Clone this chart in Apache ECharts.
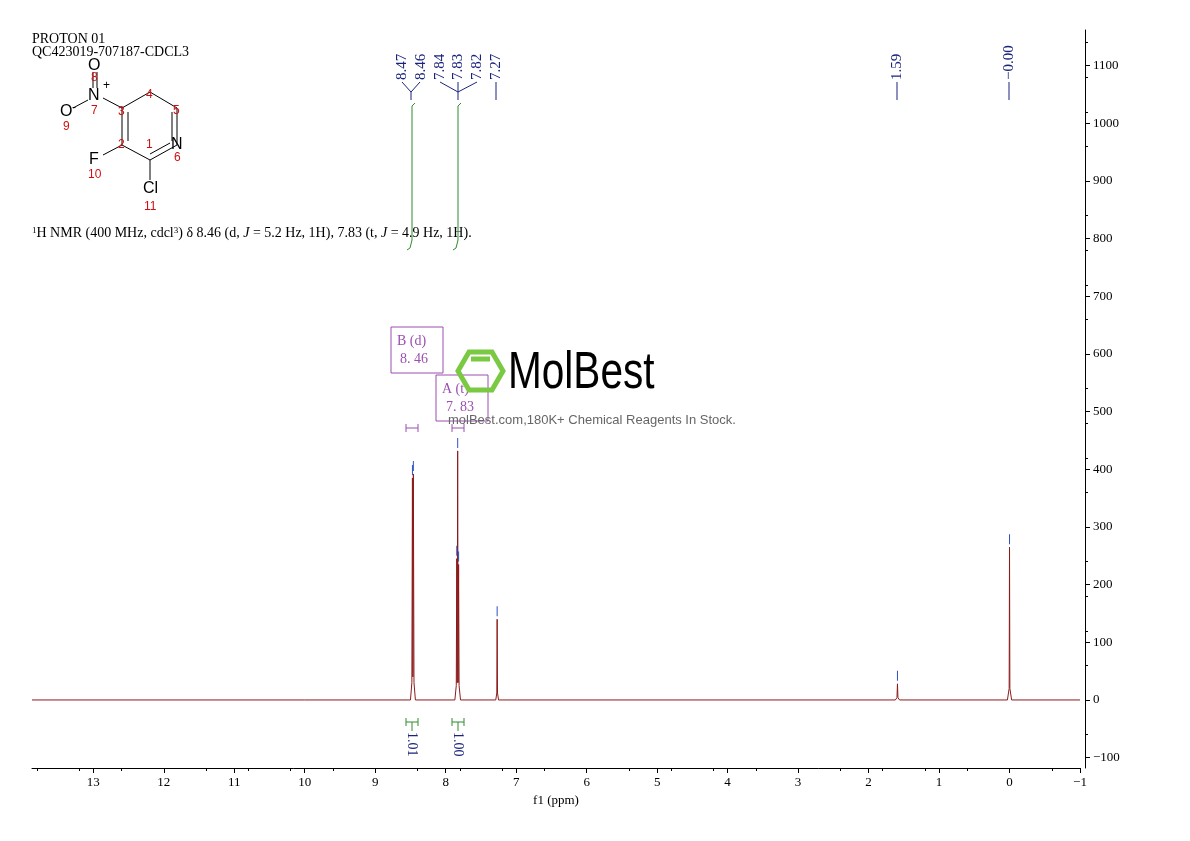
<!DOCTYPE html>
<html><head><meta charset="utf-8">
<script src="https://cdn.jsdelivr.net/npm/echarts@6/dist/echarts.min.js"></script>
<style>html,body{margin:0;padding:0;background:#fff}#c{width:1190px;height:841px}</style>
</head><body><div id="c"></div>
<script>
// peak tops (ppm, intensity)
const peakShifts = [8.472, 8.459, 7.843, 7.830, 7.817, 7.27, 1.59, 0.00];
const peakHeights = [385, 392, 245, 432, 235, 140, 28, 265];
// spectrum trace (ppm, intensity)
const specX = [13.87, 10, 8.50, 8.48, 8.472, 8.466, 8.459, 8.45, 8.43, 7.87, 7.85, 7.843, 7.837, 7.830, 7.824, 7.817, 7.81, 7.79, 7.29, 7.275, 7.27, 7.265, 7.25, 1.62, 1.597, 1.59, 1.583, 1.56, 0.03, 0.005, 0.00, -0.005, -0.03, -1.0];
const specY = [0, 0, 0, 30, 385, 40, 392, 30, 0, 0, 25, 245, 30, 432, 30, 235, 25, 0, 0, 12, 140, 12, 0, 0, 4, 28, 4, 0, 0, 20, 265, 20, 0, 0];
const xTicks = [13,12,11,10,9,8,7,6,5,4,3,2,1,0,-1];
const yTicks = [-100,0,100,200,300,400,500,600,700,800,900,1000,1100];
const topLabels = ['8.47','8.46','7.84','7.83','7.82','7.27','1.59','-0.00'];
const integrals = ['1.01','1.00'];

const spectrum = specX.map((x,i)=>[x,specY[i]]);

const chart = echarts.init(document.getElementById('c'));
const serif = 'Liberation Serif';
const blue = '#1a237e', green = '#2e8b2e', purple = '#9b4fb0', red = '#d01010';
function line(x1,y1,x2,y2,c,w){return {type:'line',shape:{x1,y1,x2,y2},style:{stroke:c||'#000',lineWidth:w||1}};}
function txt(x,y,t,opt){return Object.assign({type:'text',x,y,style:Object.assign({text:t,fill:'#000',font:'13px '+serif},opt||{})});}
function vtxt(x,y,t,c,size,down){return {type:'text',x,y,rotation:down?-Math.PI/2:Math.PI/2,style:{text:t,fill:c,font:(size||14)+'px '+serif,align:'left',verticalAlign:'middle'}};}

const g = [];
g.push(txt(32,32,'PROTON 01',{font:'14px '+serif}));
g.push(txt(32,45,'QC423019-707187-CDCL3',{font:'14px '+serif}));
const V={c3:[122,108],c4:[150,92],c5:[177,108],n6:[177,145],c1:[150,160],c2:[122,145]};
[['c3','c4'],['c4','c5'],['c5','n6'],['n6','c1'],['c1','c2'],['c2','c3']].forEach(([a,b])=>g.push(line(V[a][0],V[a][1],V[b][0],V[b][1])));
g.push(line(128,112,128,141)); g.push(line(172,112,172,141)); g.push(line(150,154,170,143));
g.push(line(122,108,103,98)); g.push(line(150,160,150,180)); g.push(line(122,145,103,155));
g.push(line(93,88,93,72)); g.push(line(97,88,97,72)); g.push(line(88,100,73,108));
g.push(txt(88,88,'N',{font:'16px Liberation Sans'})); g.push(txt(103,80,'+',{font:'12px Liberation Sans'}));
g.push(txt(88,58,'O',{font:'16px Liberation Sans'})); g.push(txt(60,104,'O',{font:'16px Liberation Sans'}));
g.push(txt(72,102,'-',{font:'12px Liberation Sans'}));
g.push(txt(89,152,'F',{font:'16px Liberation Sans'})); g.push(txt(143,181,'Cl',{font:'16px Liberation Sans'}));
g.push(txt(171,137,'N',{font:'16px Liberation Sans'}));
[[91,72,'8'],[91,105,'7'],[63,121,'9'],[118,106,'3'],[146,89,'4'],[173,105,'5'],[174,152,'6'],[146,139,'1'],[118,139,'2'],[88,169,'10'],[144,201,'11']].forEach(a=>g.push(txt(a[0],a[1],a[2],{fill:red,font:'12px Liberation Sans'})));
g.push({type:'text',x:32,y:226,style:{rich:{s:{fontSize:9,verticalAlign:'top',fontFamily:serif},n:{fontSize:14,fontFamily:serif},i:{fontSize:14,fontStyle:'italic',fontFamily:serif}},text:'{s|1}{n|H NMR (400 MHz, cdcl}{s|3}{n|) δ 8.46 (d, }{i|J}{n| = 5.2 Hz, 1H), 7.83 (t, }{i|J}{n| = 4.9 Hz, 1H).}'}});
const tx=[402,421,440,458,477,496,897,1009];
tx.forEach((x,i)=>g.push(vtxt(x,80,topLabels[i].replace('-','−'),blue,15)));
g.push(line(402,82,411,92,blue)); g.push(line(420,82,411,92,blue)); g.push(line(411,92,411,100,blue));
g.push(line(440,82,458,92,blue)); g.push(line(458,82,458,100,blue)); g.push(line(477,82,458,92,blue));
g.push(line(496,82,496,100,blue)); g.push(line(897,82,897,100,blue)); g.push(line(1009,82,1009,100,blue));
g.push({type:'polyline',shape:{points:[[415,103],[412,106],[412,240],[410,248],[407,250]]},style:{stroke:green,fill:null,lineWidth:1}});
g.push({type:'polyline',shape:{points:[[461,103],[458,106],[458,240],[456,248],[453,250]]},style:{stroke:green,fill:null,lineWidth:1}});
g.push(line(406,718,406,726,green)); g.push(line(418,718,418,726,green)); g.push(line(406,722,418,722,green));
g.push(line(452,718,452,726,green)); g.push(line(464,718,464,726,green)); g.push(line(452,722,464,722,green));
g.push(line(412,722,412,731,green)); g.push(line(458,722,458,731,green));
g.push(vtxt(412,732,integrals[0],blue,14,true)); g.push(vtxt(458,732,integrals[1],blue,14,true));
g.push({type:'rect',shape:{x:391,y:327,width:52,height:46},style:{stroke:purple,fill:null}});
g.push(txt(397,334,'B (d)',{fill:purple,font:'14px '+serif})); g.push(txt(400,352,'8. 46',{fill:purple,font:'14px '+serif}));
g.push({type:'rect',shape:{x:436,y:375,width:52,height:46},style:{stroke:purple,fill:null}});
g.push(txt(442,382,'A (t)',{fill:purple,font:'14px '+serif})); g.push(txt(446,400,'7. 83',{fill:purple,font:'14px '+serif}));
g.push(line(406,428,418,428,purple)); g.push(line(406,424,406,432,purple)); g.push(line(418,424,418,432,purple));
g.push(line(452,428,464,428,purple)); g.push(line(452,424,452,432,purple)); g.push(line(464,424,464,432,purple));
g.push({type:'polygon',shape:{points:[[458,371],[469,352],[492,352],[503,371],[492,390],[469,390]]},style:{stroke:'#7ac943',fill:null,lineWidth:5}});
g.push(line(471,359,490,359,'#7ac943',5));
g.push({type:'text',x:508,y:348,scaleX:0.78,style:{text:'MolBest',font:'52px Liberation Sans',fill:'#000'}});
g.push(txt(448,414,'molBest.com,180K+ Chemical Reagents In Stock.',{font:'13px Liberation Sans',fill:'#666'}));

chart.setOption({
  animation:false,
  grid:{left:32,right:110,top:30,bottom:73},
  xAxis:{type:'value',inverse:true,min:-1,max:13.87,
    axisLine:{onZero:false,lineStyle:{color:'#000'}},
    axisTick:{customValues:xTicks,lineStyle:{color:'#000'}},
    minorTick:{show:true,splitNumber:5},
    axisLabel:{customValues:xTicks,color:'#000',fontFamily:serif,fontSize:13,formatter:v=>String(v).replace('-','−')},
    splitLine:{show:false},
    name:'f1 (ppm)',nameLocation:'middle',nameGap:26,nameTextStyle:{fontFamily:serif,fontSize:13,color:'#000'}},
  yAxis:{type:'value',position:'right',offset:5,min:-118,max:1162,
    axisLine:{show:true,onZero:false,lineStyle:{color:'#000'}},
    axisTick:{show:true,customValues:yTicks,lineStyle:{color:'#000'}},
    minorTick:{show:true,splitNumber:5},
    axisLabel:{customValues:yTicks,color:'#000',fontFamily:serif,fontSize:13,formatter:v=>(v<0?'−':'')+Math.abs(v)},
    splitLine:{show:false}},
  series:[{type:'line',data:spectrum,symbol:'none',lineStyle:{color:'#8b1a1a',width:1},
    markPoint:{symbol:'rect',symbolSize:[1,10],symbolOffset:[0,-8],itemStyle:{color:'#3050c0'},label:{show:false},
      data:peakShifts.map((p,i)=>({coord:[p,peakHeights[i]]}))}}],
  graphic:g
});
</script></body></html>
